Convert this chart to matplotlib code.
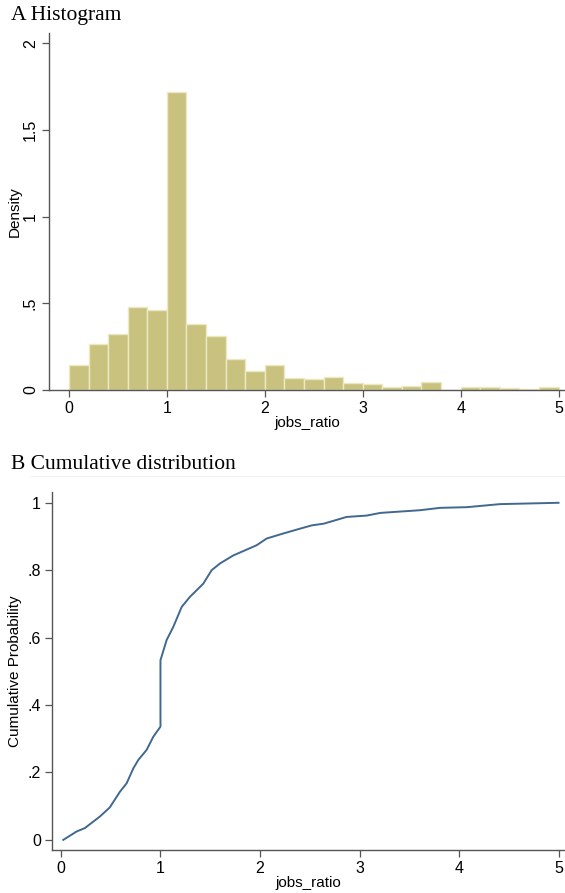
import numpy as np
import matplotlib
matplotlib.use("Agg")
import matplotlib.pyplot as plt

# ---- data ----
bin_edges = np.round(np.arange(0, 5.0001, 0.2), 2)
densities = [0.144, 0.265, 0.321, 0.481, 0.462, 1.72, 0.383, 0.312, 0.179, 0.111,
             0.144, 0.070, 0.062, 0.077, 0.040, 0.033, 0.015, 0.023, 0.046, 0.0,
             0.015, 0.015, 0.010, 0.004, 0.015]

cdf_x = [0.023, 0.158, 0.24, 0.39, 0.49, 0.593, 0.66, 0.727, 0.777, 0.861, 0.928, 1.0,
         1.0, 1.062, 1.129, 1.213, 1.296, 1.43, 1.514, 1.598, 1.733, 1.966, 2.067,
         2.235, 2.4, 2.52, 2.64, 2.87, 3.07, 3.21, 3.61, 3.81, 4.08, 4.41, 5.0]
cdf_y = [0.0, 0.025, 0.035, 0.069, 0.096, 0.143, 0.168, 0.212, 0.237, 0.267, 0.306, 0.336,
         0.533, 0.593, 0.632, 0.691, 0.721, 0.760, 0.800, 0.820, 0.844, 0.874, 0.894,
         0.909, 0.923, 0.933, 0.938, 0.958, 0.962, 0.970, 0.978, 0.985, 0.987, 0.996, 1.0]

hist_yticks = [0, 0.5, 1, 1.5, 2]
hist_ylabels = ["0", ".5", "1", "1.5", "2"]
cdf_yticks = [0, 0.2, 0.4, 0.6, 0.8, 1]
cdf_ylabels = ["0", ".2", ".4", ".6", ".8", "1"]
xticks = [0, 1, 2, 3, 4, 5]

W, H = 565, 893
fig = plt.figure(figsize=(W / 100, H / 100), dpi=100)
fig.patch.set_facecolor("white")

sans = ["Liberation Sans", "DejaVu Sans"]
serif = ["Liberation Serif", "DejaVu Serif"]
axis_col = "#555555"

def px_axes(l, t, r, b):
    return fig.add_axes([l / W, 1 - b / H, (r - l) / W, (b - t) / H])

def style(ax):
    for s in ["top", "right"]:
        ax.spines[s].set_visible(False)
    for s in ["left", "bottom"]:
        ax.spines[s].set_color(axis_col)
        ax.spines[s].set_linewidth(1.0)
    ax.tick_params(direction="out", length=5, width=0.9, color=axis_col,
                   labelsize=11.5, labelcolor="black", pad=3)
    for lab in ax.get_xticklabels() + ax.get_yticklabels():
        lab.set_family(sans)

def labels(ax, xl, yl, xpos, ypos):
    ax.set_xlabel(xl, family=sans, fontsize=11)
    ax.set_ylabel(yl, family=sans, fontsize=11)
    ax.xaxis.label.set_va("center")
    ax.yaxis.label.set_va("center")
    ax.xaxis.set_label_coords(0.5, xpos)
    ax.yaxis.set_label_coords(ypos, 0.5)

# ---- Panel A ----
fig.text(11 / W, 1 - 15.5 / H, "A Histogram", family=serif, fontsize=15.5,
         va="center", ha="left")
ax1 = px_axes(49, 33, 565, 390)
ax1.bar(bin_edges[:-1], densities, width=0.2, align="edge",
        color="#c9c27f", edgecolor="#ece8c4", linewidth=1.0)
ax1.set_xlim(-0.204, 5.066)
ax1.set_ylim(0, 2.06)
ax1.set_xticks(xticks)
ax1.set_xticklabels([str(v) for v in xticks])
ax1.set_yticks(hist_yticks)
ax1.set_yticklabels(hist_ylabels, rotation=90, va="center")
style(ax1)
labels(ax1, "jobs_ratio", "Density", -(423.3 - 390) / 357, (15 - 49) / 516)

# faint separator line
fig.add_artist(plt.Line2D([30 / W, 1], [1 - 476 / H, 1 - 476 / H],
                          color="#f3f3f3", linewidth=0.8))

# ---- Panel B ----
fig.text(11 / W, 1 - 465 / H, "B Cumulative distribution", family=serif,
         fontsize=15.5, va="center", ha="left")
ax2 = px_axes(52, 492, 565, 850)
ax2.plot(cdf_x, cdf_y, color="#41688f", linewidth=1.4)
ax2.set_xlim(-0.09, 5.065)
ax2.set_ylim(-0.03, 1.032)
ax2.set_xticks(xticks)
ax2.set_xticklabels([str(v) for v in xticks])
ax2.set_yticks(cdf_yticks)
ax2.set_yticklabels(cdf_ylabels)
style(ax2)
labels(ax2, "jobs_ratio", "Cumulative Probability", -(883.3 - 850) / 358, (15 - 52) / 513)

fig.savefig("out.png", dpi=100, facecolor="white")
